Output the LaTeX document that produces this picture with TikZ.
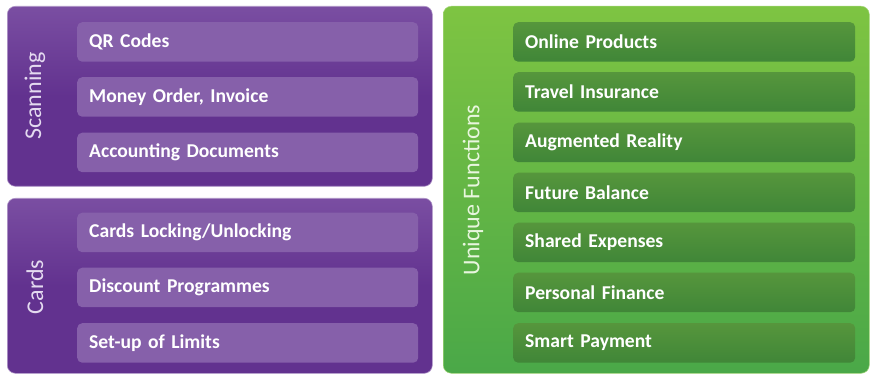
\documentclass[tikz,border=0pt]{standalone}
\usepackage{fontspec}
\setmainfont{Carlito}
\usetikzlibrary{positioning}
\definecolor{purpletop}{RGB}{122,78,162}
\definecolor{purplebot}{RGB}{98,50,143}
\definecolor{purpleitem}{RGB}{134,96,170}
\definecolor{purplelabel}{RGB}{228,218,240}
\definecolor{greentop}{RGB}{126,196,66}
\definecolor{greenbot}{RGB}{74,168,72}
\definecolor{greenitemtop}{RGB}{86,150,60}
\definecolor{greenitembot}{RGB}{64,134,56}
\definecolor{greenlabel}{RGB}{232,246,222}
\tikzset{
        panel/.style={rounded corners=8pt,anchor=north west,inner sep=0pt},
        purplepanel/.style={panel,top color=purpletop,bottom color=purplebot,middle color=purplebot,draw=purpletop!60!white,line width=0.6pt},
        greenpanel/.style={panel,top color=greentop,bottom color=greenbot,draw=greentop!70!white,line width=0.5pt},
        item/.style={rounded corners=5pt,anchor=north west,minimum height=39.5pt,
                text width=317pt,inner xsep=12pt,inner ysep=0pt,align=left,
                text=white,font=\fontsize{19.6}{22}\selectfont\bfseries},
        purpleitem/.style={item,fill=purpleitem,minimum width=341pt},
        greenitem/.style={item,top color=greenitemtop,bottom color=greenitembot,minimum width=342pt,text width=318pt},
        sidelabel/.style={rotate=90,font=\fontsize{24}{28}\selectfont},
        }

\begin{document}
\begin{tikzpicture}[x=1pt,y=-1pt]
			\useasboundingbox (0,0) rectangle (871,374);

			% panels
			\node [purplepanel,minimum width=425pt,minimum height=180pt] (scanpanel) at (7,6) {};
			\node [purplepanel,minimum width=425pt,minimum height=175pt] (cardpanel) at (7,198) {};
			\node [greenpanel,minimum width=426pt,minimum height=367pt] (uniquepanel) at (443,6) {};

			% side labels
			\node [sidelabel,text=purplelabel] (scanlabel) at (35,96) {Scanning};
			\node [sidelabel,text=purplelabel] (cardlabel) at (35,287) {Cards};
			\node [sidelabel,text=greenlabel] (uniquelabel) at (473,190) {Unique Functions};

			% scanning items
			\node [purpleitem] (qr) at (77,22) {QR Codes};
			\node [purpleitem] (money) at (77,77) {Money Order, Invoice};
			\node [purpleitem] (accounting) at (77,132.5) {Accounting Documents};

			% cards items
			\node [purpleitem] (locking) at (77,212.5) {Cards Locking/Unlocking};
			\node [purpleitem] (discount) at (77,267.5) {Discount Programmes};
			\node [purpleitem] (limits) at (77,323) {Set-up of Limits};

			% unique functions items
			\node [greenitem] (online) at (513,22) {Online Products};
			\node [greenitem] (travel) at (513,72) {Travel Insurance};
			\node [greenitem] (augmented) at (513,122.5) {Augmented Reality};
			\node [greenitem] (future) at (513,172.5) {Future Balance};
			\node [greenitem] (shared) at (513,222.5) {Shared Expenses};
			\node [greenitem] (personal) at (513,272.5) {Personal Finance};
			\node [greenitem] (smart) at (513,323) {Smart Payment};
		\end{tikzpicture}
\end{document}
